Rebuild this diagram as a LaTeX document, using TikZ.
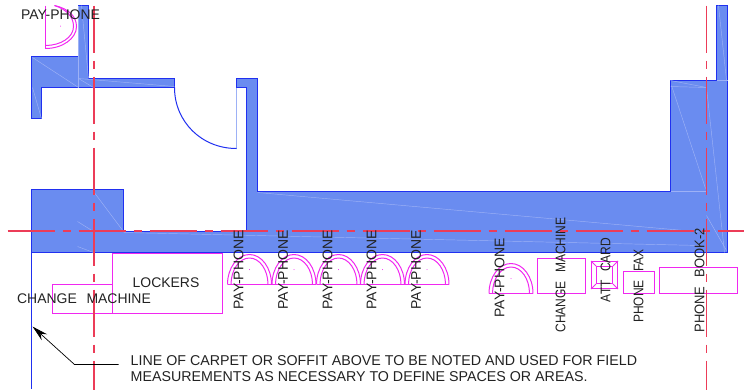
\documentclass[tikz,border=0pt]{standalone}
\usepackage{graphicx}
\usepackage{fontspec}
\setmainfont{Liberation Sans}
\newfontfamily\cadfont[WordSpace=2.5]{Liberation Sans}
\usetikzlibrary{arrows.meta}
\definecolor{wallfill}{HTML}{6A8CF0}
\definecolor{wallline}{HTML}{2030F0}
\definecolor{faint}{HTML}{9DB1F6}
\definecolor{pinkc}{HTML}{F028F0}
\definecolor{redc}{HTML}{EC3C58}
\definecolor{txt}{HTML}{222222}
\tikzset{
  wall/.style={fill=wallfill,draw=wallline,line width=1bp,line join=miter},
  seam/.style={draw=faint,line width=.45pt},
  fixture/.style={draw=pinkc,line width=1bp},
  centre/.style={color=redc,line width=1.6bp,line cap=butt,dash pattern=on 47bp off 8bp on 8bp off 8bp},
  cad/.style={inner sep=0pt,text=txt,font=\cadfont\fontsize{14}{16}\selectfont},
  cadv/.style={cad,rotate=90},
  note/.style={inner sep=0pt,anchor=base west,text=txt,font=\fontsize{14.3}{16}\selectfont},
  phone/.pic={
    \draw[fixture] (-22,0) -- (22,0);
    \draw[fixture] (-22,0) arc[start angle=180,end angle=360,x radius=22,y radius=30];
    \draw[fixture] (-18.5,0) arc[start angle=180,end angle=360,x radius=18.5,y radius=26.5];
    \fill[pinkc] (0,-15) circle (.5);
  }
}
\begin{document}
\begin{tikzpicture}[x=1bp,y=-1bp]
\useasboundingbox (-.5,-.5) rectangle (743.5,388.5);
% walls
\draw[wall] (78,5) -- (88,5) -- (88,78) -- (174,78) -- (174,87) -- (41,87) -- (41,118) -- (31,118) -- (31,56) -- (78,56) -- cycle;
\draw[wall] (236,78) -- (257,78) -- (257,191) -- (670,191) -- (670,80) -- (716,80) -- (716,5) -- (727,5) -- (727,252) -- (31,252) -- (31,189) -- (123,189) -- (123,231) -- (246,231) -- (246,87) -- (236,87) -- cycle;
% faint seams
\draw[seam] (78,5) -- (78,87);
\draw[seam] (32,57) -- (78,87);
\draw[seam] (78,78) -- (174,86);
\draw[seam] (78,78) -- (93,87);
\draw[seam] (32,87) -- (41,118);
\draw[seam] (81,5) -- (88,78);
\draw[seam] (93,191) -- (123,231);
\draw[seam] (77,221) -- (93,231);
\draw[seam] (77,246) -- (93,252);
\draw[seam] (123,232) -- (700,245);
\draw[seam] (257,192) -- (706,232);
\draw[seam] (670,80) -- (706,87);
\draw[seam] (670,86) -- (706,87);
\draw[seam] (671,85) -- (705,188);
\draw[seam] (670,191) -- (706,191);
\draw[seam] (706,87) -- (724,252);
\draw[seam] (716,80) -- (727,80);
\draw[seam] (718,5) -- (726,80);
\draw[seam] (706,215) -- (726,250);
% door
\draw[draw=faint,line width=1bp] (236,87) -- (236,148);
\draw[draw=wallline,line width=1bp] (174,87) .. controls (174,121) and (201,148) .. (236,148);
% carpet line
\coordinate (lineTop) at (31,252);
\coordinate (lineEnd) at (31,388);
\draw[draw=wallline,line width=1bp] (lineTop) -- (lineEnd);
% fixtures
\draw[fixture] (45,5) -- (45,48);
\draw[fixture] (54,5) .. controls (68,8) and (76,16) .. (76,26) .. controls (76,38) and (62,48) .. (45,48);
\draw[fixture] (45,45) .. controls (60,45) and (73,37) .. (73,26) .. controls (73,16) and (66,9) .. (54,5);
\fill[pinkc] (60,25.5) circle (.5);
\pic at (249,284) {phone};
\pic at (293.5,284) {phone};
\pic at (338,284) {phone};
\pic at (382,284) {phone};
\pic at (426.5,284) {phone};
\pic at (510.5,293) {phone};
\node[fixture,draw,minimum width=60bp,minimum height=29bp,inner sep=0pt] (boxChange) at (82,298.5) {};
\node[fixture,draw,minimum width=110bp,minimum height=60bp,inner sep=0pt] (boxLockers) at (167,283) {};
\node[fixture,draw,minimum width=48bp,minimum height=35bp,inner sep=0pt] (boxChangeB) at (561,275.5) {};
\node[fixture,draw,minimum width=26bp,minimum height=27bp,inner sep=0pt] (boxAtt) at (604,274.5) {};
\node[fixture,draw,minimum width=16bp,minimum height=17bp,inner sep=0pt] (boxAttIn) at (604,274.5) {};
\draw[fixture] (boxAtt.north west) -- (boxAttIn.north west);
\draw[fixture] (boxAtt.north east) -- (boxAttIn.north east);
\draw[fixture] (boxAtt.south west) -- (boxAttIn.south west);
\draw[fixture] (boxAtt.south east) -- (boxAttIn.south east);
\node[fixture,draw,minimum width=31bp,minimum height=22bp,inner sep=0pt] (boxFax) at (638.5,282) {};
\node[fixture,draw,minimum width=78bp,minimum height=26bp,inner sep=0pt] (boxBook) at (698,280) {};
% centre lines
\coordinate (vLeftA) at (93.4,5); \coordinate (vLeftB) at (93.4,389);
\coordinate (hMidA) at (7,230.7); \coordinate (hMidB) at (744,230.7);
\coordinate (vRightA) at (706,5); \coordinate (vRightB) at (706,389);
\begin{scope}[centre]
\draw (vRightA) -- (vRightB);
\draw (hMidA) -- (hMidB);
\draw (vLeftA) -- (vLeftB);
\end{scope}
% labels
\node[cad] (t0) at (60,14) {PAY-PHONE};
\node[cad] (t1) at (83.5,298) {CHANGE MACHINE};
\node[cad] (t2) at (165.5,282) {LOCKERS};
\node[cadv] (t3) at (238,269.5) {PAY-PHONE};
\node[cadv] (t4) at (282.5,269.5) {PAY-PHONE};
\node[cadv] (t5) at (327,269.5) {PAY-PHONE};
\node[cadv] (t6) at (371,269.5) {PAY-PHONE};
\node[cadv] (t7) at (415.5,269.5) {PAY-PHONE};
\node[cadv] (t8) at (499,277.5) {PAY-PHONE};
\node[cadv] (t9) at (560,274.5) {\scalebox{.86}[1]{CHANGE MACHINE}};
\node[cadv] (t10) at (605,269.5) {\scalebox{.86}[1]{ATT CARD}};
\node[cadv] (t11) at (638,285.5) {\scalebox{.86}[1]{PHONE FAX}};
\node[cadv] (t12) at (699,280) {\scalebox{.93}[1]{PHONE BOOK-2}};
\node[note] (n1) at (130,365) {LINE OF CARPET OR SOFFIT ABOVE TO BE NOTED AND USED FOR FIELD};
\node[note] (n2) at (130,381) {MEASUREMENTS AS NECESSARY TO DEFINE SPACES OR AREAS.};
% leader
\coordinate (leadTip) at (32,326);
\coordinate (leadElbow) at (74,364);
\coordinate (leadEnd) at (118,364);
\draw[line width=.7bp,-{Stealth[length=16bp,width=8bp]}] (leadEnd) -- (leadElbow) -- (leadTip);
\end{tikzpicture}
\end{document}
